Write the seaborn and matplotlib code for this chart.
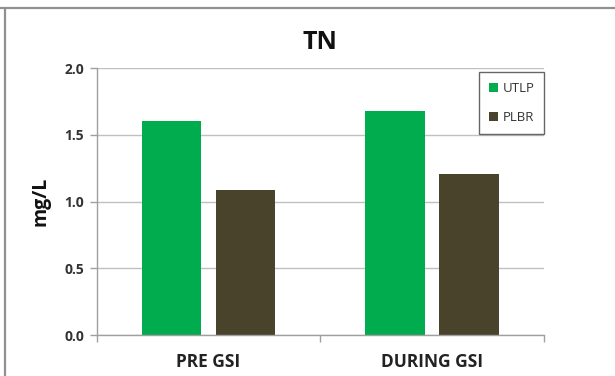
import matplotlib
matplotlib.use("Agg")
import matplotlib.pyplot as plt
import seaborn as sns
import pandas as pd
from matplotlib.lines import Line2D

categories = ["PRE GSI", "DURING GSI"]
series = ["UTLP", "PLBR"]
utlp = [1.60, 1.68]
plbr = [1.09, 1.21]
yticks = [0.0, 0.5, 1.0, 1.5, 2.0]

df = pd.DataFrame({
    "period": categories * 2,
    "site": [series[0]] * 2 + [series[1]] * 2,
    "value": utlp + plbr,
})

sns.set_theme(style="white")
plt.rcParams["font.family"] = ["Open Sans", "DejaVu Sans"]

fig = plt.figure(figsize=(6.15, 3.76), dpi=100)
ax = fig.add_axes([0.157, 0.109, 0.728, 0.710])

palette = {"UTLP": "#00AC4E", "PLBR": "#4A432B"}
sns.barplot(data=df, x="period", y="value", hue="site", hue_order=series,
            order=categories, palette=palette, width=0.66, gap=0.19,
            saturation=1, ax=ax, legend=True, linewidth=0)

ax.set_xlim(-0.5, 1.5)
ax.set_ylim(0, 2.0)
ax.set_yticks(yticks)
ax.set_yticklabels([f"{v:.1f}" for v in yticks], fontweight="bold", fontsize=10, color="#333333")
ax.set_xticks(range(len(categories)))
ax.set_xticklabels(categories, fontweight="bold", fontsize=12.5, color="#222222")
ax.tick_params(axis="x", which="major", length=0, pad=13)
ax.set_xticks([-0.5, 0.5, 1.5], minor=True)
ax.tick_params(axis="x", which="minor", length=5, color="#a0a0a0", width=1, direction="out", bottom=True)
ax.tick_params(axis="y", length=5, color="#a0a0a0", width=1, direction="out", left=True, pad=4)

ax.yaxis.grid(True, color="#c0c0c0", linewidth=1)
ax.set_axisbelow(True)
for s in ["top", "right"]:
    ax.spines[s].set_visible(False)
for s in ["left", "bottom"]:
    ax.spines[s].set_color("#a0a0a0")
    ax.spines[s].set_linewidth(1)

ax.set_xlabel("")
ax.set_ylabel("mg/L", fontweight="bold", fontsize=14, color="#111111", labelpad=10)
ax.set_title("TN", fontweight="bold", fontsize=18, color="#111111", pad=14)

leg = ax.legend(loc="upper right", bbox_to_anchor=(1.0, 0.985), frameon=True,
                fontsize=9.5, handlelength=0.7, handleheight=0.7, handletextpad=0.35,
                labelspacing=1.25, borderpad=0.75, borderaxespad=0.0, fancybox=False)
leg.get_frame().set_edgecolor("#404040")
leg.get_frame().set_linewidth(1)
for t in leg.get_texts():
    t.set_color("#333333")

# outer chart-area border (top and left edges visible)
fig.add_artist(Line2D([0, 1], [1 - 7.5 / 376] * 2, transform=fig.transFigure,
                      color="#909090", linewidth=1.6))
fig.add_artist(Line2D([4.5 / 615] * 2, [0, 1 - 7.5 / 376], transform=fig.transFigure,
                      color="#909090", linewidth=1.6))

fig.savefig("out.png", dpi=100)
